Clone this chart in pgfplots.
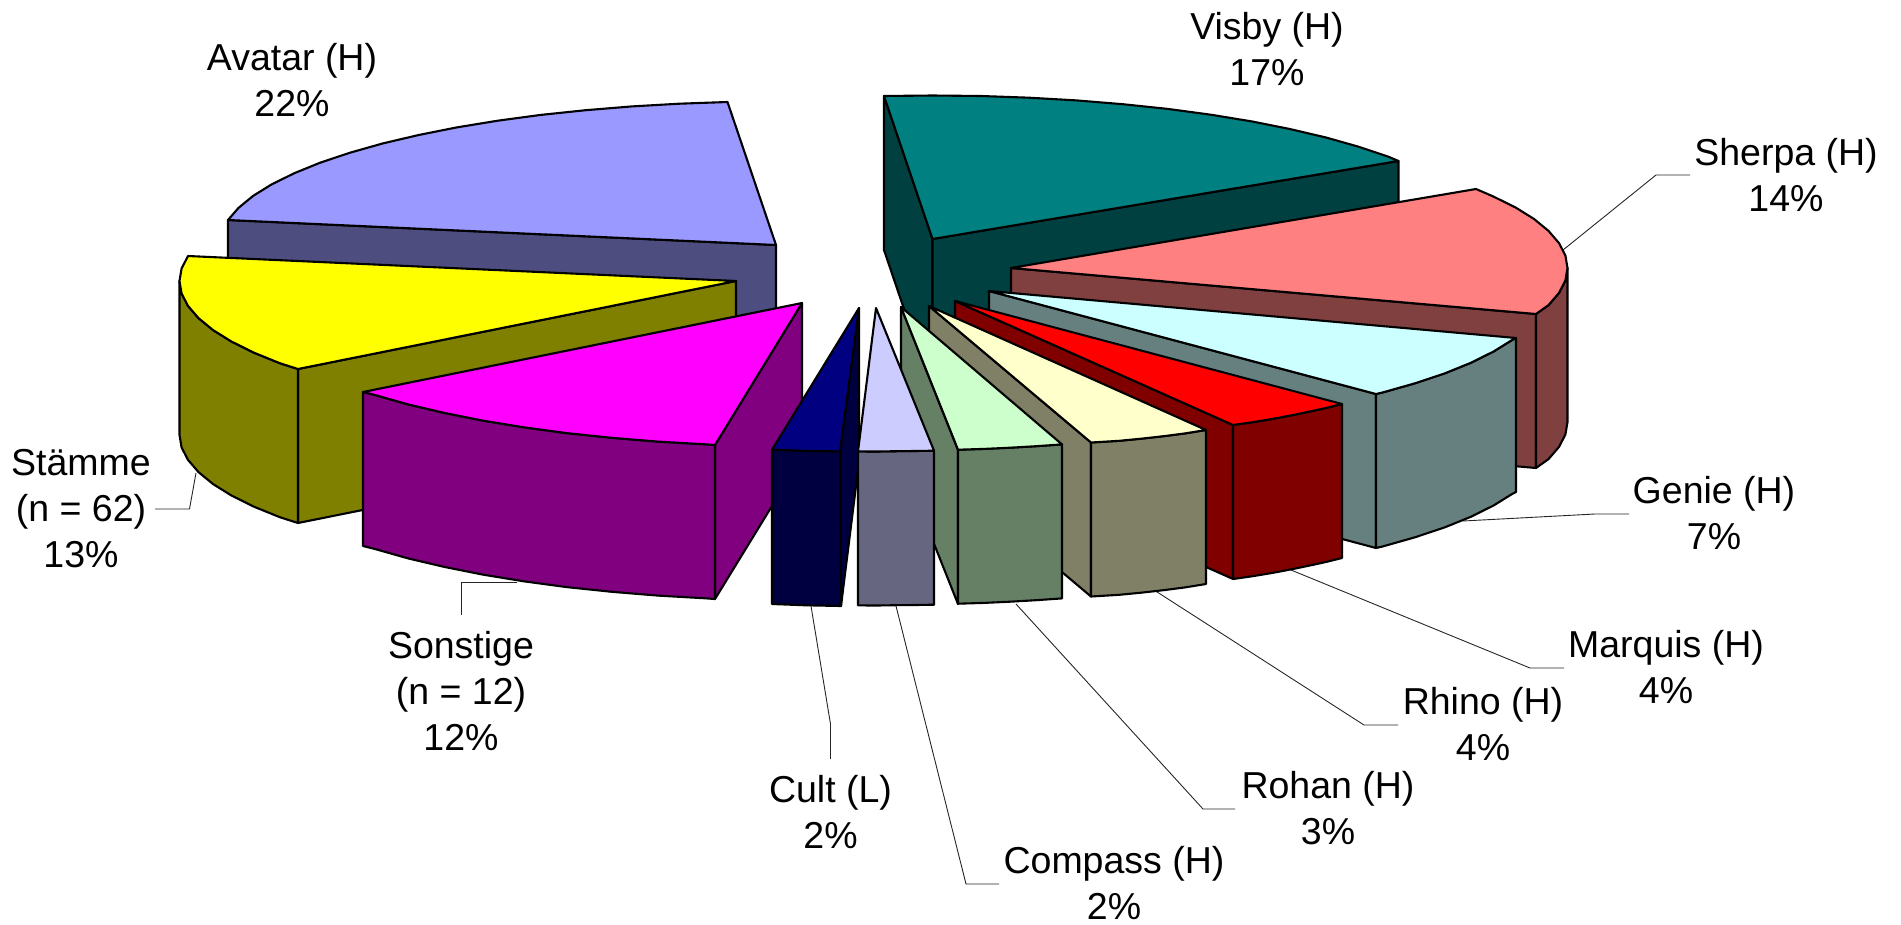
\documentclass[border=0pt]{standalone}
\usepackage{fontspec}
\setmainfont{Liberation Sans}
\usepackage{pgfplots}
\pgfplotsset{compat=1.18}
\definecolor{avT}{HTML}{9999FF}\definecolor{avS}{HTML}{4D4D80}
\definecolor{yeT}{HTML}{FFFF00}\definecolor{yeS}{HTML}{808000}
\definecolor{maT}{HTML}{FF00FF}\definecolor{maS}{HTML}{800080}
\definecolor{teT}{HTML}{008080}\definecolor{teS}{HTML}{004040}
\definecolor{piT}{HTML}{FF8080}\definecolor{piS}{HTML}{804040}
\definecolor{cyT}{HTML}{CCFFFF}\definecolor{cyS}{HTML}{668080}
\definecolor{reT}{HTML}{FF0000}\definecolor{reS}{HTML}{800000}
\definecolor{paT}{HTML}{FFFFCC}\definecolor{paS}{HTML}{808066}
\definecolor{grT}{HTML}{CCFFCC}\definecolor{grS}{HTML}{668066}
\definecolor{laT}{HTML}{CCCCFF}\definecolor{laS}{HTML}{666680}
\definecolor{naT}{HTML}{000080}\definecolor{naS}{HTML}{000040}
\pgfplotsset{
  face/.style={fill=#1,draw=black,line width=2.1pt,line join=round,forget plot},
  lead/.style={draw=black!85,line width=0.9pt,forget plot}
}
\tikzset{lab/.style={align=center,inner sep=0pt,font=\fontsize{37.5}{46}\selectfont}}
\begin{document}
\begin{tikzpicture}
\useasboundingbox (0,0) rectangle (1901pt,924pt);
\begin{axis}[at={(0,0)},anchor=south west,width=1901pt,height=924pt,scale only axis,
  xmin=0,xmax=1901,ymin=0,ymax=924,y dir=reverse,axis lines=none,clip=false]
% leader lines
\addplot[lead] coordinates {(1563,250)(1656,175)(1690,175)};
\addplot[lead] coordinates {(1463,521)(1595,514)(1629,514)};
\addplot[lead] coordinates {(1291,570)(1530,668)(1564,668)};
\addplot[lead] coordinates {(1154,590)(1364,725)(1398,725)};
\addplot[lead] coordinates {(1016,604)(1203,809)(1235,809)};
\addplot[lead] coordinates {(896,606)(966,884)(999,884)};
\addplot[lead] coordinates {(811,606)(830.5,724)(830.5,759)};
\addplot[lead] coordinates {(517,582)(461,582)(461,615)};
\addplot[lead] coordinates {(196,473)(189.5,509)(155,509)};
% Avatar
\addplot[face=avS] coordinates {(228,220)(776,245)(776,399)(228,374)} --cycle;
\addplot[face=avT] coordinates {(228,220)(238.5,207.9)(253.1,195.9)(271.6,184.4)(294.1,173.3)(320.1,162.7)(349.7,152.8)(382.5,143.5)(418.3,135.1)(456.8,127.4)(497.7,120.7)(540.8,114.9)(585.7,110.2)(632,106.4)(679.4,103.7)(727.5,102)(776,245)} --cycle;
% Visby
\addplot[face=teS] coordinates {(884,96)(932.5,239)(932.5,393)(884,250)} --cycle;
\addplot[face=teS] coordinates {(932.5,239)(1398.5,161)(1398.5,315)(932.5,393)} --cycle;
\addplot[face=teT] coordinates {(884,96)(932.5,95.5)(981,96)(1029.1,97.7)(1076.5,100.4)(1122.8,104.2)(1167.7,108.9)(1210.8,114.7)(1251.7,121.4)(1290.2,129.1)(1326,137.5)(1358.8,146.8)(1388.4,156.7)(1398.5,161)(932.5,239)} --cycle;
% Sherpa
\addplot[face=piS] coordinates {(1011,268)(1536,314)(1536,468)(1011,422)} --cycle;
\addplot[face=piS] coordinates {(1536,314)(1548.5,305.1)(1559,292.9)(1565.4,280.5)(1567.5,268)(1567.5,422)(1565.4,434.5)(1559,446.9)(1548.5,459.1)(1536,468)} --cycle;
\addplot[face=piT] coordinates {(1011,268)(1476,189)(1492.9,196.3)(1515.4,207.4)(1533.9,218.9)(1548.5,230.9)(1559,243.1)(1565.4,255.5)(1567.5,268)(1565.4,280.5)(1559,292.9)(1548.5,305.1)(1536,314)} --cycle;
% Staemme
\addplot[face=yeS] coordinates {(298,369)(736,281)(736,435)(298,523)} --cycle;
\addplot[face=yeS] coordinates {(179.5,281)(181.6,293.5)(188,305.9)(198.5,318.1)(213.1,330.1)(231.6,341.6)(254.1,352.75)(280.1,363.3)(298,369)(298,523)(280.1,517.3)(254.1,506.75)(231.6,495.6)(213.1,484.1)(198.5,472.1)(188,459.9)(181.6,447.5)(179.5,435)} --cycle;
\addplot[face=yeT] coordinates {(188,256)(181.6,268.5)(179.5,281)(181.6,293.5)(188,305.9)(198.5,318.1)(213.1,330.1)(231.6,341.6)(254.1,352.75)(280.1,363.3)(298,369)(736,281)} --cycle;
% Sonstige
\addplot[face=maS] coordinates {(802,303)(715,445)(715,599)(802,457)} --cycle;
\addplot[face=maS] coordinates {(363,392)(375.7,395.2)(408.5,404.5)(444.3,412.9)(482.8,420.6)(523.7,427.3)(566.8,433.1)(611.7,437.8)(658,441.6)(705.4,444.3)(715,445)(715,599)(705.4,598.3)(658,595.6)(611.7,591.8)(566.8,587.1)(523.7,581.3)(482.8,574.6)(444.3,566.9)(408.5,558.5)(375.7,549.2)(363,546)} --cycle;
\addplot[face=maT] coordinates {(363,392)(375.7,395.2)(408.5,404.5)(444.3,412.9)(482.8,420.6)(523.7,427.3)(566.8,433.1)(611.7,437.8)(658,441.6)(705.4,444.3)(715,445)(802,303)} --cycle;
% Genie
\addplot[face=cyS] coordinates {(989,291)(1376,394)(1376,548)(989,445)} --cycle;
\addplot[face=cyS] coordinates {(1376,394)(1382.5,392.5)(1415.3,383.2)(1444.9,373.3)(1470.9,362.75)(1493.4,351.6)(1511.9,340.1)(1516,338)(1516,492)(1511.9,494.1)(1493.4,505.6)(1470.9,516.75)(1444.9,527.3)(1415.3,537.2)(1382.5,546.5)(1376,548)} --cycle;
\addplot[face=cyT] coordinates {(989,291)(1516,338)(1511.9,340.1)(1493.4,351.6)(1470.9,362.75)(1444.9,373.3)(1415.3,383.2)(1382.5,392.5)(1376,394)} --cycle;
% Marquis
\addplot[face=reS] coordinates {(955,301)(1233,425)(1233,579)(955,455)} --cycle;
\addplot[face=reS] coordinates {(1233,425)(1254,422)(1274.2,418.6)(1294,414.8)(1312.7,410.9)(1328,407.5)(1342,404)(1342,558)(1328,561.5)(1312.7,564.9)(1294,568.8)(1274.2,572.6)(1254,576)(1233,579)} --cycle;
\addplot[face=reT] coordinates {(955,301)(1342,404)(1328,407.5)(1312.7,410.9)(1294,414.8)(1274.2,418.6)(1254,422)(1233,425)} --cycle;
% Rhino
\addplot[face=paS] coordinates {(929,306)(1091,442.5)(1091,596.5)(929,460)} --cycle;
\addplot[face=paS] coordinates {(1091,442.5)(1119.3,440.8)(1142,438.6)(1164.2,436.1)(1185,433.4)(1206,430)(1206,584)(1185,587.4)(1164.2,590.1)(1142,592.6)(1119.3,594.8)(1091,596.5)} --cycle;
\addplot[face=paT] coordinates {(929,306)(1206,430)(1185,433.4)(1164.2,436.1)(1142,438.6)(1119.3,440.8)(1091,442.5)} --cycle;
% Rohan
\addplot[face=grS] coordinates {(901,307)(958,450)(958,604)(901,461)} --cycle;
\addplot[face=grS] coordinates {(958,449.7)(984,448.9)(1010,447.7)(1036,446.2)(1062,444.4)(1062,598.4)(1036,600.2)(1010,601.7)(984,602.9)(958,603.7)} --cycle;
\addplot[face=grT] coordinates {(901,307)(1062,444.4)(1036,446.2)(1010,447.7)(984,448.9)(958,449.7)} --cycle;
% Cult
\addplot[face=naS] coordinates {(859,308)(840,451.4)(841,606)(859,462)} --cycle;
\addplot[face=naS] coordinates {(772,449.7)(806,450.8)(840,451.4)(841,606)(806,605.3)(772,604)} --cycle;
\addplot[face=naT] coordinates {(859,308)(772,449.7)(806,450.8)(840,451.4)} --cycle;
% Compass
\addplot[face=laS] coordinates {(858,451.4)(877,451.5)(896,451.2)(915,451)(934,450.7)(934,604.7)(915,605)(896,605.2)(877,605.5)(858,605.4)} --cycle;
\addplot[face=laT] coordinates {(876,308)(934,450.7)(915,451)(896,451.2)(877,451.5)(858,451.4)} --cycle;
% labels
\node[lab] at (axis cs:292,80) {Avatar (H)\\22\%};
\node[lab] at (axis cs:1267,49.5) {Visby (H)\\17\%};
\node[lab] at (axis cs:1786,175) {Sherpa (H)\\14\%};
\node[lab] at (axis cs:1714,513) {Genie (H)\\7\%};
\node[lab] at (axis cs:1666,667.5) {Marquis (H)\\4\%};
\node[lab] at (axis cs:1483,724) {Rhino (H)\\4\%};
\node[lab] at (axis cs:1328,808) {Rohan (H)\\3\%};
\node[lab] at (axis cs:1114,883) {Compass (H)\\2\%};
\node[lab] at (axis cs:830.5,812) {Cult (L)\\2\%};
\node[lab] at (axis cs:461,691) {Sonstige\\(n = 12)\\12\%};
\node[lab] at (axis cs:81,509) {Stämme\\(n = 62)\\13\%};
\end{axis}
\end{tikzpicture}
\end{document}
